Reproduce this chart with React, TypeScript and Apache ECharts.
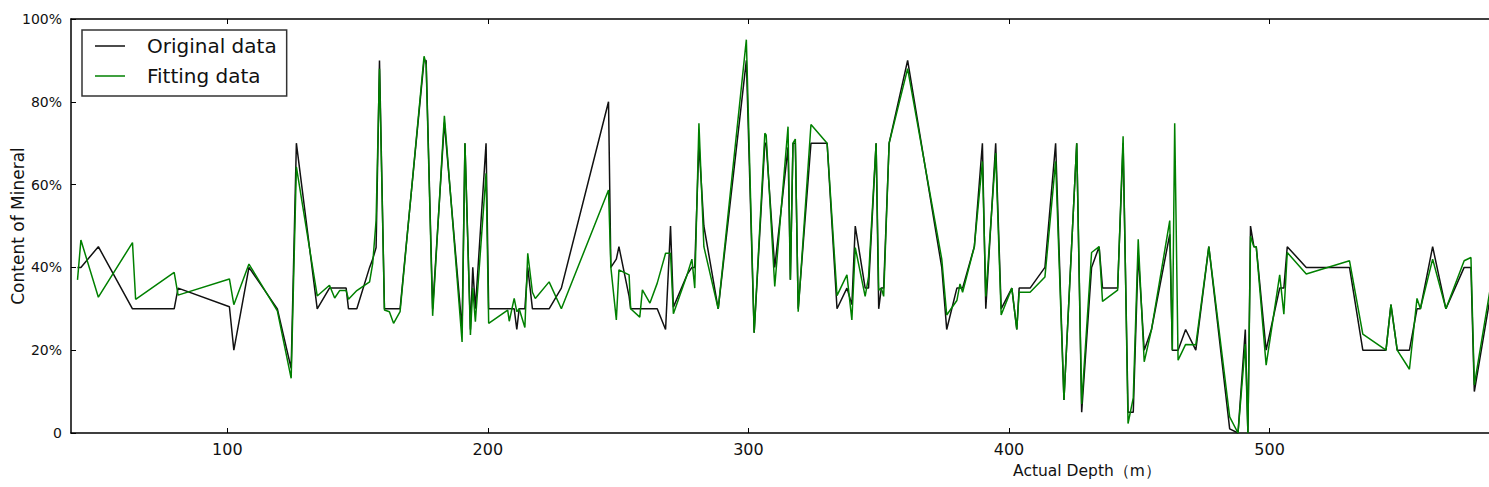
import React, { useEffect, useRef } from "react";
import * as echarts from "echarts";

const depth = [
  42.5, 43.8, 50.5, 63.6, 64.8, 79.6, 81.1, 100.8, 102.5, 108.3,
  119.2, 124.5, 126.5, 134.5, 139.2, 141.2, 143.1, 145.6, 146.5, 149.7,
  154.6, 155.8, 157.1, 158.4, 160.3, 162.2, 163.8, 166.3, 175.5, 176.3,
  178.8, 183.3, 190.1, 191.2, 193.3, 194.2, 195.2, 199.3, 200.3, 207.6,
  208.2, 210.1, 211.1, 212.0, 214.2, 215.3, 217.1, 218.2, 223.5, 228.2,
  246.3, 247.2, 249.3, 250.3, 254.2, 254.8, 258.3, 259.3, 262.2, 265.0,
  268.2, 270.1, 271.2, 276.5, 278.3, 279.4, 281.0, 282.9, 288.4, 299.2,
  302.2, 306.3, 306.8, 310.1, 315.2, 316.1, 317.1, 318.0, 319.1, 324.0,
  330.2, 334.0, 337.8, 339.7, 341.0, 344.8, 346.1, 349.0, 350.0, 351.0,
  351.9, 354.0, 361.1, 374.2, 376.1, 380.0, 381.2, 382.2, 386.7, 389.8,
  391.1, 394.9, 397.0, 401.1, 403.0, 403.9, 408.1, 413.8, 417.9, 421.1,
  426.0, 427.9, 431.7, 434.6, 435.9, 441.7, 443.8, 445.7, 447.7, 449.6,
  451.9, 454.7, 461.7, 462.7, 463.6, 464.9, 467.8, 471.7, 476.7, 484.7,
  487.9, 490.7, 491.7, 492.7, 494.0, 494.9, 498.7, 503.9, 505.5, 506.8,
  514.1, 530.7, 535.8, 544.7, 546.6, 549.0, 553.7, 556.6, 557.9, 562.6,
  567.7, 574.7, 577.3, 578.6, 585.0,
];

const originalData = [
  40, 40, 45, 30, 30, 30, 35, 30.5, 20, 40,
  30, 15.6, 70, 30, 35, 35, 35, 35, 30, 30,
  40, 42, 44.8, 90, 30, 30, 30, 30, 90, 90,
  30, 75, 25, 70, 25, 40, 30, 70, 30, 30,
  30, 30, 25, 30, 30, 40, 30, 30, 30, 35,
  80, 40, 42, 45, 33, 30, 30, 30, 30, 30,
  25, 50, 30.4, 38.3, 40, 40, 70, 50, 30, 90,
  24.2, 70, 70, 40, 69, 37, 70, 70, 30, 70,
  70, 30, 35, 31, 50, 35, 35, 70, 30, 35,
  35, 70, 90, 40, 25, 35, 35, 35, 45, 70,
  30, 70, 30, 35, 25, 35, 35, 40, 70, 8,
  70, 5, 40, 45, 35, 35, 70, 5, 5, 43.4,
  20, 25, 48, 20, 20, 20, 25, 20, 45, 1,
  0, 25, 0, 50, 45, 45, 20, 35, 35, 45,
  40, 40, 20, 20, 31, 20, 20, 30, 30, 45,
  30, 40, 40, 10, 34,
];

const fittingData = [
  37, 46.6, 32.8, 46, 32.3, 38.8, 33.3, 37.2, 31, 40.8,
  29.5, 13.2, 64.3, 33.1, 35.7, 32.6, 34.4, 34.4, 32.3, 34.4,
  36.5, 41, 51.4, 88, 29.7, 29.3, 26.5, 29.3, 91, 89,
  28.3, 76.6, 22, 70, 23.7, 35, 26.9, 62.7, 26.5, 29.7,
  27, 32.5, 29.3, 30, 25.5, 43.4, 34, 32.5, 36.5, 30,
  58.7, 40, 27.3, 39.4, 38.2, 30, 28, 34.6, 31.4, 36.2,
  43.4, 43.4, 28.8, 38.3, 42, 35, 74.8, 45, 30, 95,
  24.2, 72.4, 72, 35.4, 74, 37, 70, 71, 29.3, 74.5,
  70, 33.2, 38.2, 27.3, 44.8, 33, 37.7, 70, 34.5, 35,
  33, 70, 88, 42, 28.5, 32, 36, 34, 45, 65.6,
  33, 67.6, 28.5, 35, 25, 34, 34, 37.7, 65.6, 8,
  70, 7, 43.6, 45, 31.8, 34.5, 71.7, 2.3, 8.5, 46.8,
  17.2, 25, 51.3, 20, 74.8, 17.6, 21.4, 21.3, 45, 3.9,
  0, 21.5, 0, 47.5, 45, 45, 16.4, 38.2, 28.7, 43.6,
  38.4, 41.6, 23.9, 20, 31, 20, 15.4, 32.5, 30, 42,
  30, 41.6, 42.4, 11.6, 36,
];

const xTickValues = [100, 200, 300, 400, 500];
const yTickValues = [0, 20, 40, 60, 80, 100];

const FONT = "DejaVu Sans";

export default function App() {
  const ref = useRef<HTMLDivElement>(null);

  useEffect(() => {
    document.body.style.margin = "0";
    if (!ref.current) return;
    const chart = echarts.init(ref.current, null, { renderer: "svg" });
    const original = depth.map((d, i) => [d, originalData[i]]);
    const fitting = depth.map((d, i) => [d, fittingData[i]]);
    chart.setOption({
      animation: false,
      backgroundColor: "#ffffff",
      textStyle: { fontFamily: FONT },
      grid: {
        left: 71,
        top: 19,
        right: -2,
        bottom: 54,
        containLabel: false,
        outerBoundsMode: "none",
      },
      legend: {
        orient: "vertical",
        left: 82,
        top: 30,
        padding: [4, 10, 8, 13],
        itemGap: 6,
        itemWidth: 30,
        itemHeight: 1.5,
        icon: "rect",
        backgroundColor: "#ffffff",
        borderColor: "#333333",
        borderWidth: 1.5,
        borderRadius: 0,
        textStyle: {
          fontFamily: FONT,
          fontSize: 20,
          color: "#111111",
          lineHeight: 24,
          padding: [0, 0, 0, 17],
        },
        data: ["Original data", "Fitting data"],
      },
      xAxis: [
        {
          type: "value",
          min: 40,
          max: 585,
          name: "Actual Depth（m）",
          nameLocation: "middle",
          nameGap: 30,
          nameMoveOverlap: false,
          nameTextStyle: {
            fontFamily: FONT,
            fontSize: 15.5,
            color: "#111111",
            padding: [0, 0, 0, 612],
          },
          splitLine: { show: false },
          axisLine: { lineStyle: { color: "#000000", width: 1.5 } },
          axisTick: {
            inside: true,
            length: 5,
            customValues: xTickValues,
            lineStyle: { color: "#000000", width: 1 },
          },
          axisLabel: {
            customValues: xTickValues,
            fontFamily: FONT,
            fontSize: 16,
            color: "#111111",
            margin: 8,
          },
        },
        {
          type: "value",
          position: "top",
          min: 40,
          max: 585,
          splitLine: { show: false },
          axisLine: { lineStyle: { color: "#000000", width: 1.5 } },
          axisTick: {
            inside: true,
            length: 5,
            customValues: xTickValues,
            lineStyle: { color: "#000000", width: 1 },
          },
          axisLabel: { show: false },
        },
      ],
      yAxis: {
        type: "value",
        min: 0,
        max: 100,
        interval: 20,
        name: "Content of Mineral",
        nameLocation: "middle",
        nameGap: 45,
        nameMoveOverlap: false,
        nameTextStyle: { fontFamily: FONT, fontSize: 17, color: "#111111" },
        splitLine: { show: false },
        axisLine: { show: true, lineStyle: { color: "#000000", width: 1.5 } },
        axisTick: {
          show: true,
          inside: true,
          length: 5,
          customValues: yTickValues,
          lineStyle: { color: "#000000", width: 1 },
        },
        axisLabel: {
          fontFamily: FONT,
          fontSize: 14,
          color: "#111111",
          margin: 9,
          formatter: (v: number) => (v === 0 ? "0" : v + "%"),
        },
      },
      series: [
        {
          name: "Original data",
          type: "line",
          data: original,
          symbol: "none",
          showSymbol: false,
          lineStyle: { color: "#111111", width: 1.5 },
          itemStyle: { color: "#111111" },
          z: 2,
        },
        {
          name: "Fitting data",
          type: "line",
          data: fitting,
          symbol: "none",
          showSymbol: false,
          lineStyle: { color: "#008000", width: 1.5 },
          itemStyle: { color: "#008000" },
          z: 3,
        },
      ],
    });
    return () => chart.dispose();
  }, []);

  return <div ref={ref} style={{ width: 1489, height: 487 }} />;
}
